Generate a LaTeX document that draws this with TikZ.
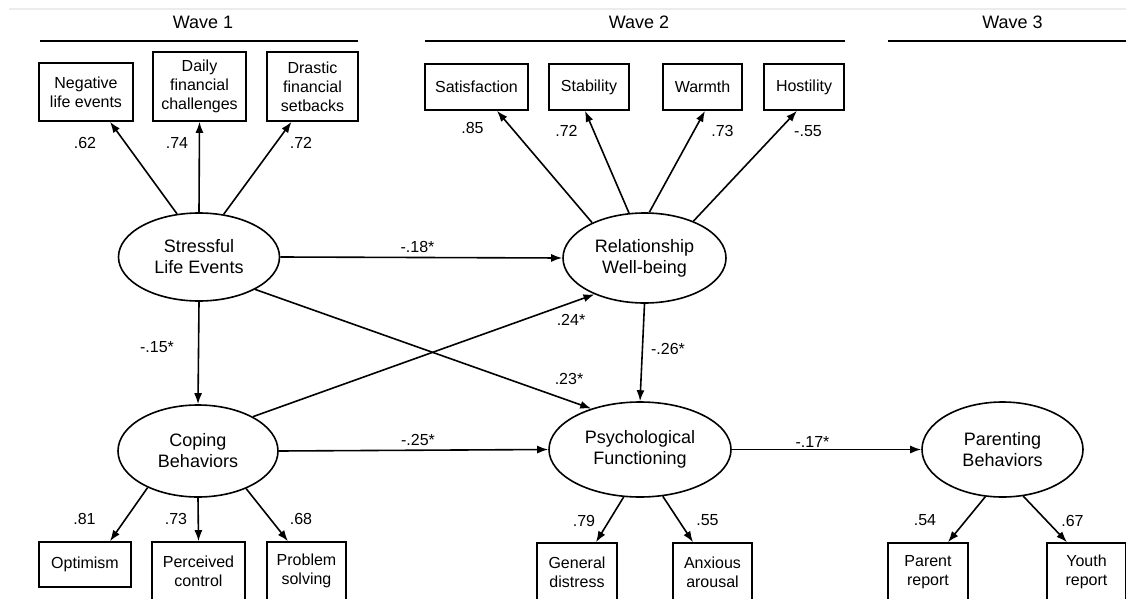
\documentclass[tikz,border=0pt]{standalone}
\usepackage{fontspec}
\setmainfont{Liberation Sans}
\usetikzlibrary{arrows.meta,shapes.geometric}
\begin{document}
\begin{tikzpicture}[x=1pt,y=-1pt,
  lw/.style={line width=1.6pt},
  box/.style={draw,lw,rectangle,inner sep=0pt,align=center,font=\fontsize{16}{19}\selectfont},
  lat/.style={draw,lw,ellipse,inner sep=0pt,align=center,font=\fontsize{18}{21}\selectfont},
  coef/.style={font=\fontsize{16}{19}\selectfont,inner sep=0pt},
  arr/.style={lw,-{Latex[length=11pt,width=8pt]}},
  wave/.style={font=\fontsize{18}{21}\selectfont,inner sep=0pt},
  waveline/.style={line width=1.7pt}]
\useasboundingbox (0,0) rectangle (1126,599);
\clip (0,0) rectangle (1126,599);
% faint top rule
\draw[gray!15,line width=1.5pt] (9,9) -- (1126,9);
% wave headers
\node[wave] (w1) at (203,22.5) {Wave 1};
\node[wave] (w2) at (639,22.5) {Wave 2};
\node[wave] (w3) at (1012.5,22.5) {Wave 3};
\draw[waveline] (40,41) -- (358,41);
\draw[waveline] (425,41) -- (845,41);
\draw[waveline] (888,41) -- (1126,41);
% top indicators
\node[box,minimum width=94pt,minimum height=58pt] (neg) at (86,92) {Negative\\life events};
\node[box,minimum width=93pt,minimum height=69pt] (daily) at (199.5,86.5) {Daily\\financial\\challenges};
\node[box,minimum width=91pt,minimum height=69pt] (drastic) at (312.5,86.5) {Drastic\\financial\\setbacks};
\node[box,minimum width=103pt,minimum height=46pt] (sat) at (476.5,87) {Satisfaction};
\node[box,minimum width=80pt,minimum height=46pt] (stab) at (589,87) {Stability};
\node[box,minimum width=79pt,minimum height=46pt] (warm) at (702.5,87) {Warmth};
\node[box,minimum width=80pt,minimum height=46pt] (host) at (804,87) {Hostility};
% latent variables
\node[lat,minimum width=161pt,minimum height=88pt] (sle) at (199,257) {Stressful\\Life Events};
\node[lat,minimum width=163pt,minimum height=90pt] (rwb) at (644.5,258) {Relationship\\Well-being};
\node[lat,minimum width=160pt,minimum height=92pt] (cop) at (198,451) {Coping\\Behaviors};
\node[lat,minimum width=182pt,minimum height=95pt] (pf) at (640,449.5) {Psychological\\Functioning};
\node[lat,minimum width=161pt,minimum height=95pt] (pb) at (1002.5,449.5) {Parenting\\Behaviors};
% bottom indicators
\node[box,minimum width=92pt,minimum height=45pt] (opt) at (85,564.5) {Optimism};
\node[box,minimum width=93pt,minimum height=58pt] (pc) at (198.5,571) {Perceived\\control};
\node[box,minimum width=79pt,minimum height=58pt] (ps) at (306.5,571) {Problem\\solving};
\node[box,minimum width=80pt,minimum height=58pt] (gd) at (577,572) {General\\distress};
\node[box,minimum width=79pt,minimum height=58pt] (aa) at (712.5,572) {Anxious\\arousal};
\node[box,minimum width=80pt,minimum height=58pt] (par) at (928,572) {Parent\\report};
\node[box,minimum width=79pt,minimum height=58pt] (youth) at (1086.5,572) {Youth\\report};
% loadings up
\draw[arr] (sle.117) -- ([xshift=24pt]neg.south);
\draw[arr] (sle.north) -- (daily.south);
\draw[arr] (sle.60) -- ([xshift=-21pt]drastic.south);
\draw[arr] (rwb.146) -- ([xshift=20.5pt]sat.south);
\draw[arr] (rwb.109) -- ([xshift=-4pt]stab.south);
\draw[arr] (rwb.84) -- ([xshift=2.5pt]warm.south);
\draw[arr] (rwb.37) -- ([xshift=-7pt]host.south);
% structural paths
\draw[arr] (sle.east) -- (rwb.west);
\draw[arr] (sle.south) -- (cop.north);
\draw[arr] (sle.-30) -- (pf.140);
\draw[arr] (cop.32) -- (rwb.216);
\draw[arr] (rwb.south) -- (pf.north);
\draw[arr] (cop.east) -- (pf.west);
\draw[arr] (pf.east) -- (pb.west);
% loadings down
\draw[arr] (cop.216) -- ([xshift=25pt]opt.north);
\draw[arr] (cop.south) -- (pc.north);
\draw[arr] (cop.-38) -- ([xshift=-18.5pt]ps.north);
\draw[arr] (pf.251) -- ([xshift=19pt]gd.north);
\draw[arr] (pf.-64.5) -- ([xshift=-19.5pt]aa.north);
\draw[arr] (pb.-110.7) -- ([xshift=20pt]par.north);
\draw[arr] (pb.-66) -- ([xshift=-19.5pt]youth.north);
% coefficients
\node[coef] (c1) at (85,143) {.62};
\node[coef] (c2) at (177,143) {.74};
\node[coef] (c3) at (301,143) {.72};
\node[coef] (c4) at (472.5,128) {.85};
\node[coef] (c5) at (566.5,131) {.72};
\node[coef] (c6) at (722.5,131) {.73};
\node[coef] (c7) at (808,131) {-.55};
\node[coef] (c8) at (417.5,247) {-.18*};
\node[coef] (c9) at (157,347.5) {-.15*};
\node[coef] (c10) at (571,320) {.24*};
\node[coef] (c11) at (569,379) {.23*};
\node[coef] (c12) at (668,349) {-.26*};
\node[coef] (c13) at (418,440) {-.25*};
\node[coef] (c14) at (812.5,442) {-.17*};
\node[coef] (c15) at (84.5,518.5) {.81};
\node[coef] (c16) at (176,518.5) {.73};
\node[coef] (c17) at (301,518.5) {.68};
\node[coef] (c18) at (584,520.5) {.79};
\node[coef] (c19) at (707.5,520.5) {.55};
\node[coef] (c20) at (925,520.5) {.54};
\node[coef] (c21) at (1072.5,520.5) {.67};
\end{tikzpicture}
\end{document}
